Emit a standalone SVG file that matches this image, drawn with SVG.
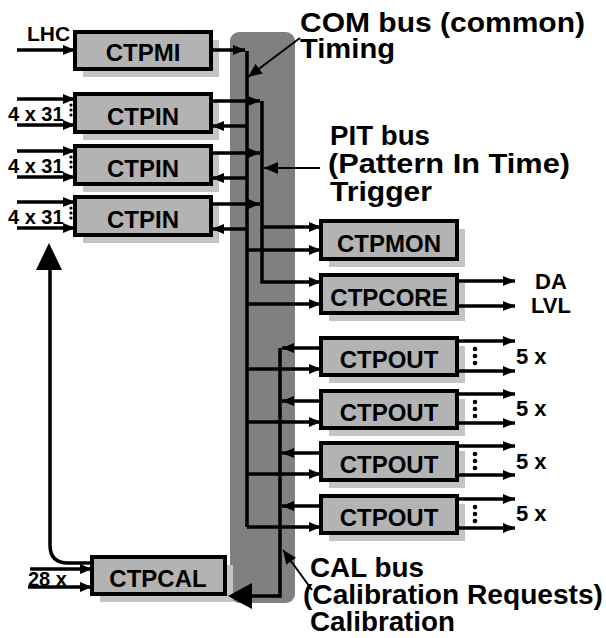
<svg xmlns="http://www.w3.org/2000/svg" width="606" height="638" viewBox="0 0 606 638">
<defs>
<style>
.shadow{fill:#c4c4c4;stroke:none}
.box{fill:#b3b3b3;stroke:#000;stroke-width:4}
.lbl{font-family:"Liberation Sans",Arial,sans-serif;font-weight:bold;font-size:24px;text-anchor:middle;fill:#000}
.big{font-family:"Liberation Sans",Arial,sans-serif;font-weight:bold;font-size:27px;fill:#000}
.sm{font-family:"Liberation Sans",Arial,sans-serif;font-weight:bold;font-size:20px;fill:#000}
.ln{fill:none;stroke:#000;stroke-width:3.5}
.thin{fill:none;stroke:#000;stroke-width:2}
</style>
<marker id="ah" markerUnits="userSpaceOnUse" viewBox="0 0 12 10" refX="12" refY="5" markerWidth="12" markerHeight="10" orient="auto">
<path d="M0,0 L12,5 L0,10 z" fill="#000"/>
</marker>
<marker id="ahs" markerUnits="userSpaceOnUse" viewBox="0 0 14 12" refX="14" refY="6" markerWidth="14" markerHeight="12" orient="auto">
<path d="M0,0 L14,6 L0,12 z" fill="#000"/>
</marker>
</defs>
<rect width="606" height="638" fill="#fff"/>

<g id="bus">
<rect x="230" y="32" width="65" height="571" rx="9" fill="#808080"/>
</g>

<g id="ctpmi">
<rect class="shadow" x="83" y="40" width="136" height="37"/>
<rect class="box" x="75" y="32" width="136" height="37"/>
<text class="lbl" x="143" y="61">CTPMI</text>
</g>
<g id="ctpin1">
<rect class="shadow" x="83" y="102" width="136" height="38"/>
<rect class="box" x="75" y="94" width="136" height="38"/>
<text class="lbl" x="143" y="125">CTPIN</text>
</g>
<g id="ctpin2">
<rect class="shadow" x="83" y="154" width="136" height="38"/>
<rect class="box" x="75" y="146" width="136" height="38"/>
<text class="lbl" x="143" y="177">CTPIN</text>
</g>
<g id="ctpin3">
<rect class="shadow" x="83" y="205" width="136" height="38"/>
<rect class="box" x="75" y="197" width="136" height="38"/>
<text class="lbl" x="143" y="228">CTPIN</text>
</g>
<g id="ctpmon">
<rect class="shadow" x="329" y="229" width="136" height="38"/>
<rect class="box" x="321" y="221" width="136" height="38"/>
<text class="lbl" x="389" y="252">CTPMON</text>
</g>
<g id="ctpcore">
<rect class="shadow" x="329" y="283" width="136" height="38"/>
<rect class="box" x="321" y="275" width="136" height="38"/>
<text class="lbl" x="389" y="306">CTPCORE</text>
</g>
<g id="ctpout1">
<rect class="shadow" x="329" y="346" width="136" height="37"/>
<rect class="box" x="321" y="338" width="136" height="37"/>
<text class="lbl" x="389" y="368">CTPOUT</text>
</g>
<g id="ctpout2">
<rect class="shadow" x="329" y="399" width="136" height="37"/>
<rect class="box" x="321" y="391" width="136" height="37"/>
<text class="lbl" x="389" y="421">CTPOUT</text>
</g>
<g id="ctpout3">
<rect class="shadow" x="329" y="451" width="136" height="37"/>
<rect class="box" x="321" y="443" width="136" height="37"/>
<text class="lbl" x="389" y="473">CTPOUT</text>
</g>
<g id="ctpout4">
<rect class="shadow" x="329" y="504" width="136" height="37"/>
<rect class="box" x="321" y="496" width="136" height="37"/>
<text class="lbl" x="389" y="526">CTPOUT</text>
</g>
<g id="ctpcal">
<rect class="shadow" x="100" y="565" width="133" height="37"/>
<rect class="box" x="92" y="557" width="133" height="37"/>
<text class="lbl" x="158" y="587">CTPCAL</text>
</g>

<g id="connectors">
<line class="ln" x1="247" y1="51" x2="247" y2="527"/>
<polyline class="ln" points="262,101 262,282 321,282" marker-end="url(#ah)"/>
<polyline class="ln" points="280,348 280,596 250,596"/>
<polygon points="228,596 252,583 252,609" fill="#000"/>
<line class="ln" x1="17" y1="50" x2="75" y2="50" marker-end="url(#ah)"/>
<line class="ln" x1="211" y1="50" x2="245" y2="50" marker-end="url(#ah)"/>
<line class="ln" x1="17" y1="99" x2="75" y2="99" marker-end="url(#ah)"/>
<line class="ln" x1="17" y1="125" x2="75" y2="125" marker-end="url(#ah)"/>
<line class="ln" x1="17" y1="151" x2="75" y2="151" marker-end="url(#ah)"/>
<line class="ln" x1="17" y1="177" x2="75" y2="177" marker-end="url(#ah)"/>
<line class="ln" x1="17" y1="202" x2="75" y2="202" marker-end="url(#ah)"/>
<line class="ln" x1="17" y1="228" x2="75" y2="228" marker-end="url(#ah)"/>
<line class="ln" x1="211" y1="101" x2="260" y2="101" marker-end="url(#ah)"/>
<line class="ln" x1="247" y1="126" x2="212" y2="126" marker-end="url(#ah)"/>
<line class="ln" x1="211" y1="153" x2="260" y2="153" marker-end="url(#ah)"/>
<line class="ln" x1="247" y1="178" x2="212" y2="178" marker-end="url(#ah)"/>
<line class="ln" x1="211" y1="204" x2="260" y2="204" marker-end="url(#ah)"/>
<line class="ln" x1="247" y1="229" x2="212" y2="229" marker-end="url(#ah)"/>
<line class="ln" x1="262" y1="227" x2="321" y2="227" marker-end="url(#ah)"/>
<line class="ln" x1="247" y1="250" x2="321" y2="250" marker-end="url(#ah)"/>
<line class="ln" x1="247" y1="304" x2="321" y2="304" marker-end="url(#ah)"/>
<line class="ln" x1="457" y1="281" x2="515" y2="281" marker-end="url(#ah)"/>
<line class="ln" x1="457" y1="306" x2="515" y2="306" marker-end="url(#ah)"/>
<line class="ln" x1="321" y1="348" x2="282" y2="348" marker-end="url(#ah)"/>
<line class="ln" x1="247" y1="369" x2="321" y2="369" marker-end="url(#ah)"/>
<line class="ln" x1="457" y1="341" x2="515" y2="341" marker-end="url(#ah)"/>
<line class="ln" x1="457" y1="371" x2="515" y2="371" marker-end="url(#ah)"/>
<line class="ln" x1="321" y1="401" x2="282" y2="401" marker-end="url(#ah)"/>
<line class="ln" x1="247" y1="422" x2="321" y2="422" marker-end="url(#ah)"/>
<line class="ln" x1="457" y1="394" x2="515" y2="394" marker-end="url(#ah)"/>
<line class="ln" x1="457" y1="423" x2="515" y2="423" marker-end="url(#ah)"/>
<line class="ln" x1="321" y1="453" x2="282" y2="453" marker-end="url(#ah)"/>
<line class="ln" x1="247" y1="474" x2="321" y2="474" marker-end="url(#ah)"/>
<line class="ln" x1="457" y1="446" x2="515" y2="446" marker-end="url(#ah)"/>
<line class="ln" x1="457" y1="475" x2="515" y2="475" marker-end="url(#ah)"/>
<line class="ln" x1="321" y1="506" x2="282" y2="506" marker-end="url(#ah)"/>
<line class="ln" x1="247" y1="527" x2="321" y2="527" marker-end="url(#ah)"/>
<line class="ln" x1="457" y1="499" x2="515" y2="499" marker-end="url(#ah)"/>
<line class="ln" x1="457" y1="528" x2="515" y2="528" marker-end="url(#ah)"/>
<path class="ln" d="M92,563 H68 Q50,563 50,545 V268"/>
<polygon points="49,243 36,270 62,270" fill="#000"/>
<line class="ln" x1="30" y1="569" x2="92" y2="569" marker-end="url(#ah)"/>
<line class="ln" x1="28" y1="587" x2="92" y2="587" marker-end="url(#ah)"/>
<line class="thin" x1="300" y1="38" x2="248" y2="77" marker-end="url(#ahs)"/>
<line class="thin" x1="320" y1="168" x2="264" y2="168" marker-end="url(#ahs)"/>
<line class="thin" x1="312" y1="590" x2="283" y2="550" marker-end="url(#ahs)"/>
</g>

<g id="dots" fill="#000">
<circle cx="71" cy="105" r="1.6"/><circle cx="71" cy="110" r="1.6"/><circle cx="71" cy="115" r="1.6"/>
<circle cx="71" cy="157" r="1.6"/><circle cx="71" cy="162" r="1.6"/><circle cx="71" cy="167" r="1.6"/>
<circle cx="71" cy="208" r="1.6"/><circle cx="71" cy="213" r="1.6"/><circle cx="71" cy="218" r="1.6"/>
<circle cx="475" cy="349" r="2.3"/><circle cx="475" cy="356" r="2.3"/><circle cx="475" cy="363" r="2.3"/>
<circle cx="475" cy="402" r="2.3"/><circle cx="475" cy="409" r="2.3"/><circle cx="475" cy="416" r="2.3"/>
<circle cx="475" cy="454" r="2.3"/><circle cx="475" cy="461" r="2.3"/><circle cx="475" cy="468" r="2.3"/>
<circle cx="475" cy="507" r="2.3"/><circle cx="475" cy="514" r="2.3"/><circle cx="475" cy="521" r="2.3"/>
</g>

<g id="labels">
<text class="sm" x="27" y="41" style="font-size:21px">LHC</text>
<text class="sm" x="8" y="121">4 x 31</text>
<text class="sm" x="8" y="173">4 x 31</text>
<text class="sm" x="8" y="224">4 x 31</text>
<text class="sm" x="28" y="586">28 x</text>
<text class="sm" x="535" y="289" style="font-size:22px">DA</text>
<text class="sm" x="531" y="313" style="font-size:22px">LVL</text>
<text class="sm" x="516" y="364" style="font-size:22px">5 x</text>
<text class="sm" x="516" y="416" style="font-size:22px">5 x</text>
<text class="sm" x="516" y="469" style="font-size:22px">5 x</text>
<text class="sm" x="516" y="521" style="font-size:22px">5 x</text>
<text class="big" x="300" y="32" textLength="285" lengthAdjust="spacingAndGlyphs">COM bus (common)</text>
<text class="big" x="300" y="58" textLength="95" lengthAdjust="spacingAndGlyphs">Timing</text>
<text class="big" x="330" y="145" textLength="100" lengthAdjust="spacingAndGlyphs">PIT bus</text>
<text class="big" x="328" y="173" textLength="242" lengthAdjust="spacingAndGlyphs">(Pattern In Time)</text>
<text class="big" x="330" y="201" textLength="102" lengthAdjust="spacingAndGlyphs">Trigger</text>
<text class="big" x="310" y="577" textLength="114" lengthAdjust="spacingAndGlyphs">CAL bus</text>
<text class="big" x="303" y="604" textLength="300" lengthAdjust="spacingAndGlyphs">(Calibration Requests)</text>
<text class="big" x="310" y="631" textLength="145" lengthAdjust="spacingAndGlyphs">Calibration</text>
</g>
</svg>
